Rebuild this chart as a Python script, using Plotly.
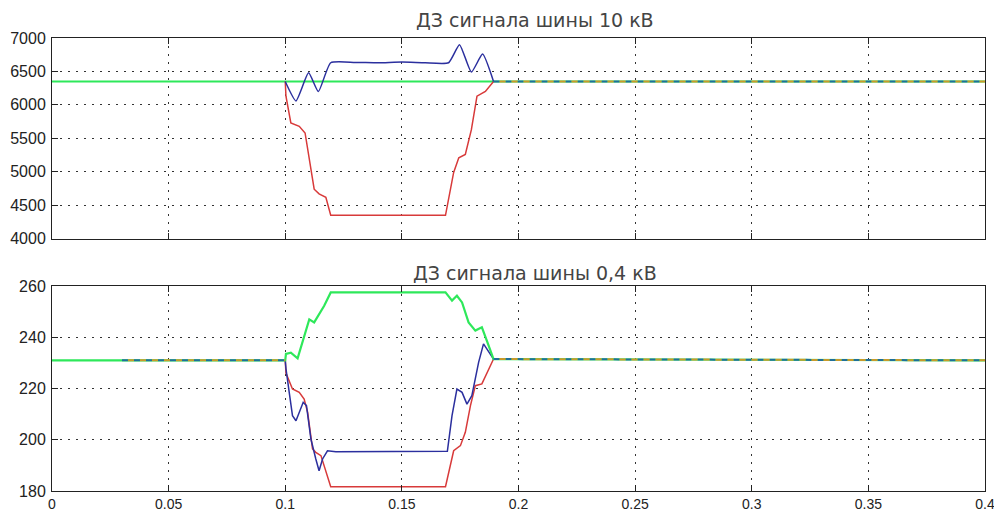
import plotly.graph_objects as go
import numpy as np

# ---------------- data ----------------
# Top: bus 10 kV
top_green_t = [0.0, 0.4]
top_green_v = [6350, 6350]

top_blue_t = [0.0, 0.1, 0.1046, 0.110, 0.1142, 0.1195, 0.13, 0.14, 0.15, 0.16, 0.170, 0.1747, 0.1798, 0.1846, 0.1893, 0.4]
top_blue_v = [6350, 6350, 6060, 6480, 6200, 6630, 6635, 6630, 6640, 6630, 6630, 6900, 6490, 6760, 6350, 6350]

top_red_t = [0.0, 0.1, 0.1003, 0.1024, 0.106, 0.1085, 0.111, 0.1124, 0.1145, 0.1174, 0.1195, 0.1687,
             0.1722, 0.1744, 0.1772, 0.1798, 0.1822, 0.1858, 0.1893, 0.4]
top_red_v = [6350, 6350, 6130, 5730, 5680, 5580, 5040, 4740, 4670, 4620, 4350, 4350,
             4990, 5210, 5260, 5630, 6130, 6200, 6350, 6350]

# Bottom: bus 0.4 kV
bot_green_t = [0.0, 0.1, 0.1003, 0.1024, 0.1053, 0.1081, 0.1103, 0.1124, 0.1145, 0.1167, 0.1195, 0.1687,
               0.1715, 0.1736, 0.1758, 0.1786, 0.1815, 0.1843, 0.1872, 0.1893, 0.4]
bot_green_v = [231, 231, 233.5, 234, 231.8, 240, 247, 245.8, 249, 252.3, 257.5, 257.5,
               254.3, 256.2, 253.6, 245.8, 242.6, 243.9, 236.7, 231.5, 231]

bot_blue_t = [0.0, 0.03, 0.1, 0.1003, 0.1017, 0.1031, 0.1046, 0.106, 0.1077, 0.1091, 0.111, 0.1131, 0.1145,
              0.116, 0.1181, 0.1217, 0.1695, 0.1715, 0.1736, 0.1758, 0.1779, 0.18, 0.1829, 0.185, 0.1869,
              0.1893, 0.4]
bot_blue_v = [231, 231, 231, 227.8, 218.5, 209.4, 207.4, 210.7, 214.6, 213.3, 200.3, 192.5, 187.9,
              192.5, 195.7, 195.3, 195.5, 209.4, 219.8, 218.5, 213.9, 217.2, 230.2, 237.4, 234.8,
              231.5, 231]

bot_red_t = [0.0, 0.03, 0.1, 0.1003, 0.1031, 0.106, 0.1081, 0.1096, 0.1117, 0.1131, 0.1153, 0.1174, 0.1195,
             0.1687, 0.1701, 0.1722, 0.1751, 0.1772, 0.1794, 0.1815, 0.1843, 0.1865, 0.1893, 0.4]
bot_red_v = [231, 231, 231, 226, 219.8, 218.5, 215.9, 210.7, 196.4, 195.1, 193.8, 187.3, 181.7,
             181.7, 187.3, 195.7, 197.7, 202.9, 213.3, 221.1, 221.8, 226.3, 231.5, 231]

x_ticks = [0, 0.05, 0.1, 0.15, 0.2, 0.25, 0.3, 0.35, 0.4]
x_tick_labels = ["0", "0.05", "0.1", "0.15", "0.2", "0.25", "0.3", "0.35", "0.4"]
top_title = "ДЗ сигнала шины 10 кВ"
bot_title = "ДЗ сигнала шины 0,4 кВ"

GREEN = "#2ee85a"
BLUE = "#2b2f9e"
RED = "#d83a3a"
DBLUE = "#1f6f9a"
ORANGE = "#c99a2a"


def seg(t, v, lo, hi):
    t = np.asarray(t); v = np.asarray(v)
    m = (t >= lo - 1e-9) & (t <= hi + 1e-9)
    return t[m], v[m]


fig = go.Figure()


def add(t, v, color, width, yaxis, xaxis, dash="solid", shape="linear"):
    fig.add_trace(go.Scatter(x=t, y=v, mode="lines", xaxis=xaxis, yaxis=yaxis,
                             line=dict(color=color, width=width, dash=dash, shape=shape, smoothing=0.5),
                             showlegend=False, hoverinfo="skip"))


# top
add(top_green_t, top_green_v, GREEN, 2.2, "y", "x")
t, v = seg(top_red_t, top_red_v, 0.1, 0.1893); add(t, v, RED, 1.5, "y", "x")
t, v = seg(top_blue_t, top_blue_v, 0.1, 0.1893); add(t, v, BLUE, 1.5, "y", "x", shape="spline")
t, v = seg(top_blue_t, top_blue_v, 0.1893, 0.4); add(t, v, DBLUE, 2, "y", "x", dash="6px,6px")
t, v = seg(top_red_t, top_red_v, 0.1893, 0.4); add(t, v, ORANGE, 2, "y", "x", dash="0px,6px,6px,0px")

# bottom
t, v = seg(bot_red_t, bot_red_v, 0.1, 0.1893); add(t, v, RED, 1.5, "y2", "x2")
t, v = seg(bot_blue_t, bot_blue_v, 0.1, 0.1893); add(t, v, BLUE, 1.5, "y2", "x2")
add(bot_green_t, bot_green_v, GREEN, 2.2, "y2", "x2")
for lo, hi in [(0.03, 0.1), (0.1893, 0.4)]:
    t, v = seg(bot_blue_t, bot_blue_v, lo, hi); add(t, v, DBLUE, 2, "y2", "x2", dash="6px,6px")
    t, v = seg(bot_red_t, bot_red_v, lo, hi); add(t, v, ORANGE, 2, "y2", "x2", dash="0px,6px,6px,0px")

tick_font = dict(family="Liberation Sans, Arial, sans-serif", size=16, color="#222")
xtick_font = dict(family="Liberation Sans, Arial, sans-serif", size=14, color="#222")
grid_dash = "2px,6px"
common_x = dict(range=[0, 0.4], tickvals=x_ticks, ticktext=x_tick_labels, showgrid=True,
                gridcolor="#333", griddash=grid_dash, gridwidth=1, showline=True, linecolor="#222",
                linewidth=1, mirror="allticks", ticks="inside", ticklen=6, tickcolor="#222",
                zeroline=False, tickfont=xtick_font, ticklabeloverflow="allow", ticklabelstandoff=0,
                automargin=False)
common_y = dict(showgrid=True, gridcolor="#333", griddash=grid_dash, gridwidth=1, showline=True,
                linecolor="#222", linewidth=1, mirror="allticks", ticks="inside", ticklen=6,
                tickcolor="#222", zeroline=False, tickfont=tick_font, ticklabelstandoff=2,
                automargin=False)

title_font = dict(family="DejaVu Sans, Liberation Sans, sans-serif", size=19, color="#444")

fig.update_layout(
    width=994, height=511,
    margin=dict(l=52, r=9, t=38, b=20, autoexpand=False),
    paper_bgcolor="white", plot_bgcolor="white",
    xaxis=dict(common_x, domain=[0, 1], anchor="y", showticklabels=False),
    yaxis=dict(common_y, domain=[0.557, 1.0], range=[4000, 7000], dtick=500, tick0=4000, anchor="x"),
    xaxis2=dict(common_x, domain=[0, 1], anchor="y2", showticklabels=True),
    yaxis2=dict(common_y, domain=[0.0, 0.4525], range=[180, 260], dtick=20, tick0=180, anchor="x2"),
    annotations=[
        dict(text=top_title, xref="paper", yref="paper", x=0.518, y=1.0396, showarrow=False,
             xanchor="center", yanchor="middle", font=title_font),
        dict(text=bot_title, xref="paper", yref="paper", x=0.518, y=0.482, showarrow=False,
             xanchor="center", yanchor="middle", font=title_font),
    ],
)

fig.write_html("out.html")
